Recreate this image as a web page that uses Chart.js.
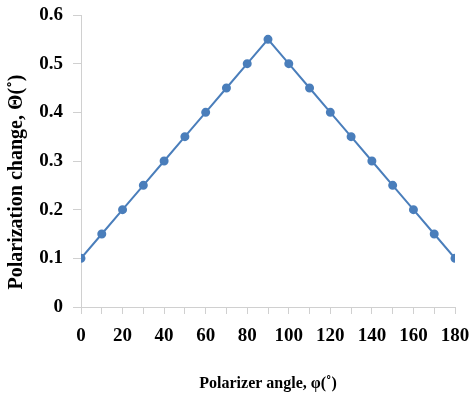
<!DOCTYPE html>
<html>
<head>
<meta charset="utf-8">
<script src="https://cdn.jsdelivr.net/npm/chart.js@4.4.1/dist/chart.umd.min.js"></script>
<style>
  html, body { margin: 0; padding: 0; background: #fff; }
  #wrap { width: 471px; height: 393px; }
</style>
</head>
<body>
<div id="wrap"><canvas id="polChart" width="471" height="393"></canvas></div>
<script>
const angles = [0, 10, 20, 30, 40, 50, 60, 70, 80, 90, 100, 110, 120, 130, 140, 150, 160, 170, 180];
const change = [0.1, 0.15, 0.2, 0.25, 0.3, 0.35, 0.4, 0.45, 0.5, 0.55, 0.5, 0.45, 0.4, 0.35, 0.3, 0.25, 0.2, 0.15, 0.1];
const xTitle = "Polarizer angle, φ(˚)";
const yTitle = "Polarization change, Θ(˚)";

const serif = "'Liberation Serif', 'Times New Roman', serif";
const axisGrey = "#d0d0d0";

// draws the y title a bit below the centre, like the original
const yTitlePlugin = {
  id: "yTitle",
  afterDraw(chart) {
    const { ctx, chartArea } = chart;
    ctx.save();
    ctx.translate(17, (chartArea.top + chartArea.bottom) / 2 + 21);
    ctx.rotate(-Math.PI / 2);
    ctx.font = "bold 20px " + serif;
    ctx.fillStyle = "#000";
    ctx.textAlign = "center";
    ctx.textBaseline = "middle";
    ctx.fillText(yTitle, 0, 0);
    ctx.restore();
  }
};

const ctx = document.getElementById("polChart").getContext("2d");
new Chart(ctx, {
  type: "line",
  data: {
    datasets: [
      {
        data: angles.map((a, i) => ({ x: a, y: change[i] })),
        borderColor: "#4a7ebb",
        backgroundColor: "#4a7ebb",
        borderWidth: 2,
        pointRadius: 3.5,
        pointHoverRadius: 3.5,
        tension: 0,
        fill: false,
      },
    ],
  },
  options: {
    responsive: false,
    animation: false,
    devicePixelRatio: 1,
    layout: { padding: { top: 15, right: 16, left: 0, bottom: 0 } },
    plugins: {
      legend: { display: false },
      tooltip: { enabled: false },
    },
    scales: {
      x: {
        type: "linear",
        min: 0,
        max: 180,
        afterFit: (s) => {
          s.height = 86;
          s.paddingLeft = 0;
          s.paddingRight = 0;
        },
        ticks: {
          stepSize: 10,
          autoSkip: false,
          maxRotation: 0,
          padding: 11,
          color: "#000",
          font: { family: serif, size: 19, weight: "bold" },
          callback: (v) => (v % 20 === 0 ? String(v) : ""),
        },
        grid: { drawOnChartArea: false, drawTicks: true, tickLength: 7, color: axisGrey },
        border: { color: axisGrey, width: 1 },
        title: {
          display: true,
          text: xTitle,
          color: "#000",
          padding: { top: 0, bottom: 0 },
          font: { family: serif, size: 16, weight: "bold" },
        },
      },
      y: {
        min: 0,
        max: 0.6,
        afterFit: (s) => {
          s.width = 81;
          s.paddingTop = 0;
          s.paddingBottom = 0;
        },
        ticks: {
          stepSize: 0.1,
          padding: 10,
          color: "#000",
          font: { family: serif, size: 19, weight: "bold" },
          callback: (v) => (v === 0 ? "0" : v.toFixed(1)),
        },
        grid: { drawOnChartArea: false, drawTicks: true, tickLength: 8, color: axisGrey },
        border: { color: axisGrey, width: 1 },
      },
    },
  },
  plugins: [yTitlePlugin],
});
</script>
</body>
</html>
